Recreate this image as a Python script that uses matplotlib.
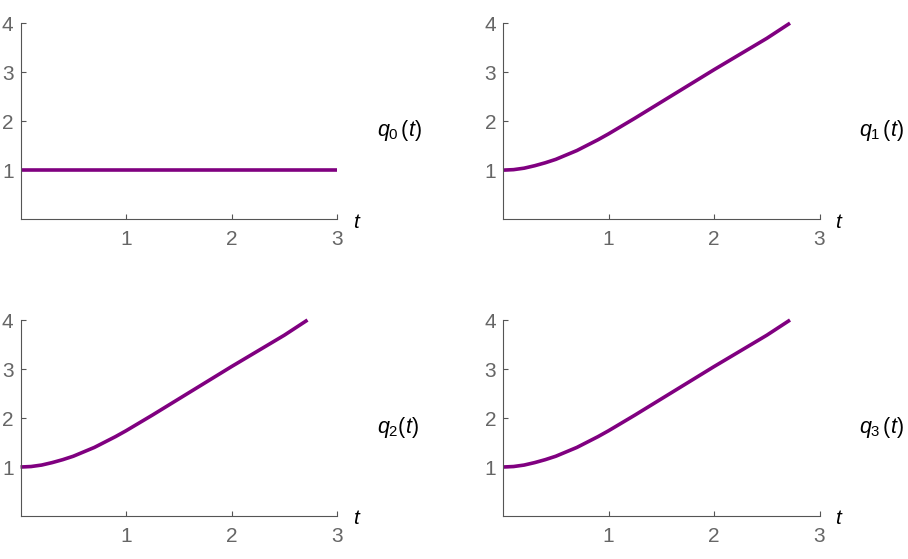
import matplotlib
matplotlib.use('Agg')
import matplotlib.pyplot as plt

plt.rcParams['font.family'] = ['Liberation Sans', 'DejaVu Sans']
plt.rcParams['mathtext.fontset'] = 'custom'
plt.rcParams['mathtext.rm'] = 'Liberation Sans'
plt.rcParams['mathtext.it'] = 'Liberation Sans:italic'

# values
t_flat = [0.0, 3.0]
q0_vals = [1.0, 1.0]

t_vals = [0.0, 0.1, 0.2, 0.3, 0.4, 0.5, 0.6, 0.7, 0.8, 0.9, 1.0, 1.25,
          1.5, 1.75, 2.0, 2.25, 2.5, 2.72]
q_vals = [1.0, 1.01, 1.04, 1.09, 1.15, 1.22, 1.31, 1.40, 1.51, 1.62, 1.74, 2.06,
          2.39, 2.72, 3.05, 3.37, 3.69, 4.0]

series = [(t_flat, q0_vals), (t_vals, q_vals), (t_vals, q_vals), (t_vals, q_vals)]
labels = [r'$q_0\,(t)$', r'$q_1\,(t)$', r'$q_2(t)$', r'$q_3\,(t)$']

x_ticks = [1, 2, 3]
y_ticks = [1, 2, 3, 4]

purple = '#800080'
axis_col = '#555555'
tick_col = '#666666'

fig = plt.figure(figsize=(9.08, 5.59), dpi=100)

# axes positions in figure fraction
lefts = [0.0226, 0.554, 0.0226, 0.554]
bottoms = [0.608, 0.608, 0.0769, 0.0769]
w, h = 0.3486, 0.3506

for i, (tt, qq) in enumerate(series):
    ax = fig.add_axes([lefts[i], bottoms[i], w, h])
    ax.plot(tt, qq, color=purple, lw=2.6, solid_capstyle='butt',
            solid_joinstyle='round', clip_on=False)
    ax.set_xlim(0, 3)
    ax.set_ylim(0, 4)
    ax.set_xticks(x_ticks)
    ax.set_yticks(y_ticks)
    for s in ['top', 'right']:
        ax.spines[s].set_visible(False)
    for s in ['left', 'bottom']:
        ax.spines[s].set_color(axis_col)
        ax.spines[s].set_linewidth(0.8)
    ax.tick_params(direction='in', length=3.5, width=0.8, color=axis_col,
                   labelcolor=tick_col, labelsize=15)
    ax.tick_params(axis='x', pad=8)
    ax.tick_params(axis='y', pad=5)
    ax.text(1.05, -0.015, r'$t$', transform=ax.transAxes, ha='left',
            va='center', fontsize=15, color='black')
    ax.text(1.126, 0.454, labels[i], transform=ax.transAxes, ha='left',
            va='center', fontsize=15.5, color='black')

plt.savefig('out.png', dpi=100)
